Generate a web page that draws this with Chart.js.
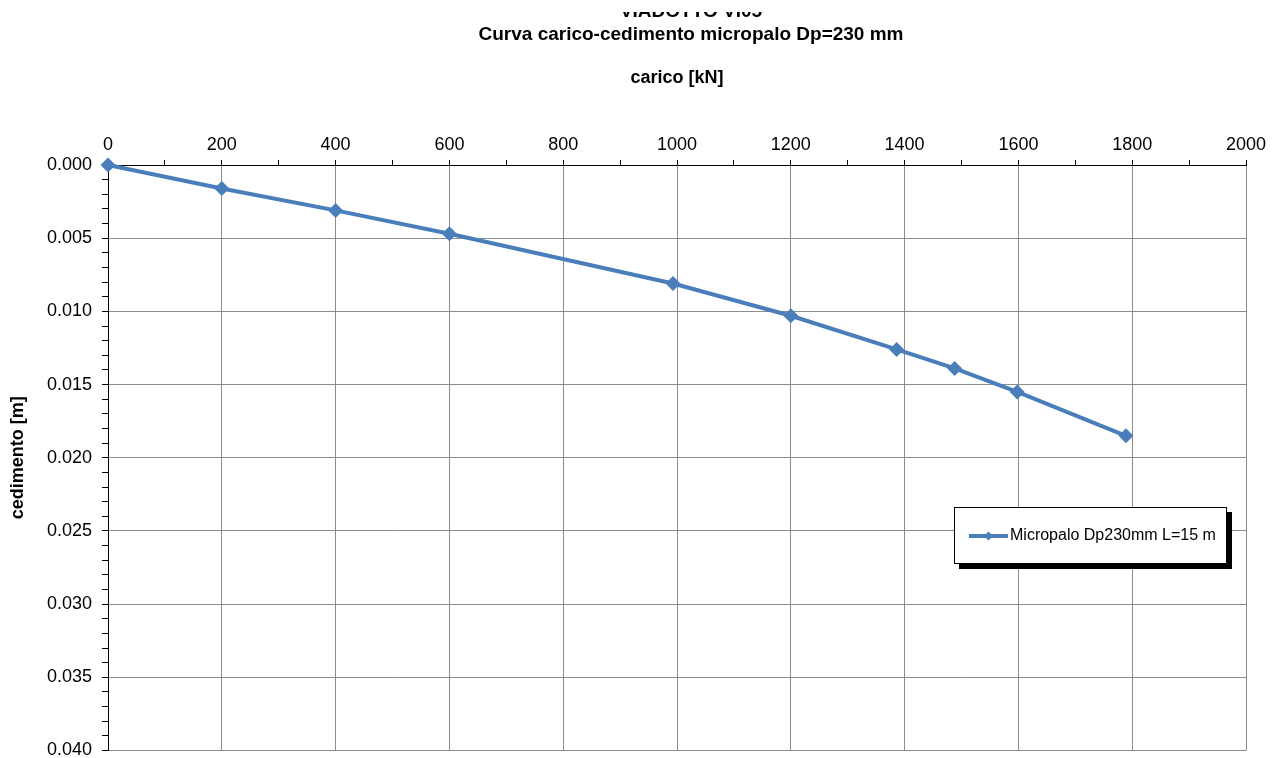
<!DOCTYPE html>
<html>
<head>
<meta charset="utf-8">
<script src="https://cdn.jsdelivr.net/npm/chart.js@4.4.1/dist/chart.umd.min.js"></script>
<style>
  html, body { margin: 0; padding: 0; background: #fff; }
  canvas { display: block; }
</style>
</head>
<body>
<canvas id="chart" width="1273" height="758"></canvas>
<script>
// Chart texts
const chartTitle = ['VIADOTTO VI05', 'Curva carico-cedimento micropalo Dp=230 mm'];
const xAxisTitle = 'carico [kN]';
const yAxisTitle = 'cedimento [m]';
const seriesLabel = 'Micropalo Dp230mm L=15 m';

// Load test results: load [kN] vs settlement [m]
const loadKN = [0, 200, 400, 600, 993, 1200, 1386, 1488, 1598, 1789];
const settlementM = [0, 0.0016, 0.0031, 0.0047, 0.0081, 0.0103, 0.0126, 0.0139, 0.0155, 0.0185];

// Axis ranges and tick spacing
const xRange = [0, 2000];
const xMajorStep = 200;
const xMinorStep = 100;
const yRange = [0, 0.040];
const yMajorStep = 0.005;
const yMinorStep = 0.001;

const FONT = '"Liberation Sans", Arial, Helvetica, sans-serif';
const LINE_BLUE = '#4A7EBB';
const GRID_GREY = '#8c8c8c';

const points = loadKN.map((x, i) => ({ x: x, y: settlementM[i] }));

const isMajor = (value, step, minor) => Math.round(value / minor) % Math.round(step / minor) === 0;

// Two-line heading above the plot (first line cut at the top edge)
const headingPlugin = {
  id: 'heading',
  afterDraw(chart) {
    const ctx = chart.ctx;
    const cx = 691;
    ctx.save();
    ctx.font = 'bold 19px ' + FONT;
    ctx.fillStyle = '#000';
    ctx.textAlign = 'center';
    ctx.textBaseline = 'alphabetic';
    ctx.save();
    ctx.beginPath();
    ctx.rect(0, 12, chart.width, chart.height);
    ctx.clip();
    ctx.fillText(chartTitle[0], cx, 17);
    ctx.restore();
    ctx.fillText(chartTitle[1], cx, 40);
    ctx.restore();
  }
};

// Boxed legend with drop shadow, inside the plot area
const boxLegendPlugin = {
  id: 'boxLegend',
  afterDraw(chart) {
    const ctx = chart.ctx;
    const ds = chart.data.datasets[0];
    const x = 954, y = 507, w = 273, h = 57;
    ctx.save();
    ctx.fillStyle = '#000';
    ctx.fillRect(x + 5, y + 5, w, h);
    ctx.fillStyle = '#fff';
    ctx.fillRect(x, y, w, h);
    ctx.strokeStyle = '#000';
    ctx.lineWidth = 1;
    ctx.strokeRect(x + 0.5, y + 0.5, w - 1, h - 1);

    const ly = y + 29;
    ctx.strokeStyle = ds.borderColor;
    ctx.lineWidth = 4;
    ctx.beginPath();
    ctx.moveTo(969, ly);
    ctx.lineTo(1008, ly);
    ctx.stroke();

    const mx = 988.5, r = 4.5;
    ctx.fillStyle = ds.pointBackgroundColor;
    ctx.beginPath();
    ctx.moveTo(mx, ly - r);
    ctx.lineTo(mx + r, ly);
    ctx.lineTo(mx, ly + r);
    ctx.lineTo(mx - r, ly);
    ctx.closePath();
    ctx.fill();

    ctx.fillStyle = '#000';
    ctx.font = '16px ' + FONT;
    ctx.textAlign = 'left';
    ctx.textBaseline = 'middle';
    ctx.fillText(ds.label, 1010, ly);
    ctx.restore();
  }
};

new Chart(document.getElementById('chart'), {
  type: 'scatter',
  data: {
    datasets: [{
      label: seriesLabel,
      data: points,
      showLine: true,
      borderColor: LINE_BLUE,
      backgroundColor: LINE_BLUE,
      borderWidth: 4,
      pointStyle: 'rectRot',
      pointRadius: 7.5,
      pointHoverRadius: 7.5,
      pointBackgroundColor: LINE_BLUE,
      pointBorderColor: LINE_BLUE,
      pointBorderWidth: 0,
      tension: 0,
      clip: false
    }]
  },
  plugins: [headingPlugin, boxLegendPlugin],
  options: {
    responsive: false,
    animation: false,
    devicePixelRatio: 1,
    layout: { padding: { top: 0, left: 0, right: 27, bottom: 7 } },
    plugins: {
      legend: { display: false },
      title: { display: false },
      tooltip: { enabled: false }
    },
    scales: {
      x: {
        type: 'linear',
        position: 'top',
        min: xRange[0],
        max: xRange[1],
        ticks: {
          stepSize: xMinorStep,
          autoSkip: false,
          maxRotation: 0,
          padding: 4,
          color: '#000',
          font: { family: FONT, size: 18 },
          callback: (v) => isMajor(v, xMajorStep, xMinorStep) ? String(v) : ''
        },
        grid: {
          drawTicks: true,
          tickLength: 5,
          lineWidth: 1,
          tickColor: '#000',
          color: (c) => (c.tick && isMajor(c.tick.value, xMajorStep, xMinorStep)) ? GRID_GREY : 'rgba(0,0,0,0)'
        },
        border: { display: true, color: '#000', width: 1 },
        title: {
          display: true,
          text: xAxisTitle,
          color: '#000',
          font: { family: FONT, size: 18, weight: 'bold' },
          padding: { top: 67, bottom: 0 }
        },
        afterFit(axis) {
          axis.height = 165;
          axis.paddingLeft = 0;
          axis.paddingRight = 0;
        }
      },
      y: {
        type: 'linear',
        position: 'left',
        reverse: true,
        min: yRange[0],
        max: yRange[1],
        ticks: {
          stepSize: yMinorStep,
          autoSkip: false,
          padding: 10,
          color: '#000',
          font: { family: FONT, size: 18 },
          callback: (v) => isMajor(v, yMajorStep, yMinorStep) ? v.toFixed(3) : ''
        },
        grid: {
          drawTicks: true,
          tickLength: 6,
          lineWidth: 1,
          tickColor: '#000',
          color: (c) => (c.tick && isMajor(c.tick.value, yMajorStep, yMinorStep)) ? GRID_GREY : 'rgba(0,0,0,0)'
        },
        border: { display: true, color: '#000', width: 1 },
        title: {
          display: true,
          text: yAxisTitle,
          color: '#000',
          font: { family: FONT, size: 18, weight: 'bold' },
          padding: { top: 7, bottom: 0 }
        },
        afterFit(axis) {
          axis.width = 108;
          axis.paddingTop = 0;
          axis.paddingBottom = 0;
        }
      }
    }
  }
});
</script>
</body>
</html>
